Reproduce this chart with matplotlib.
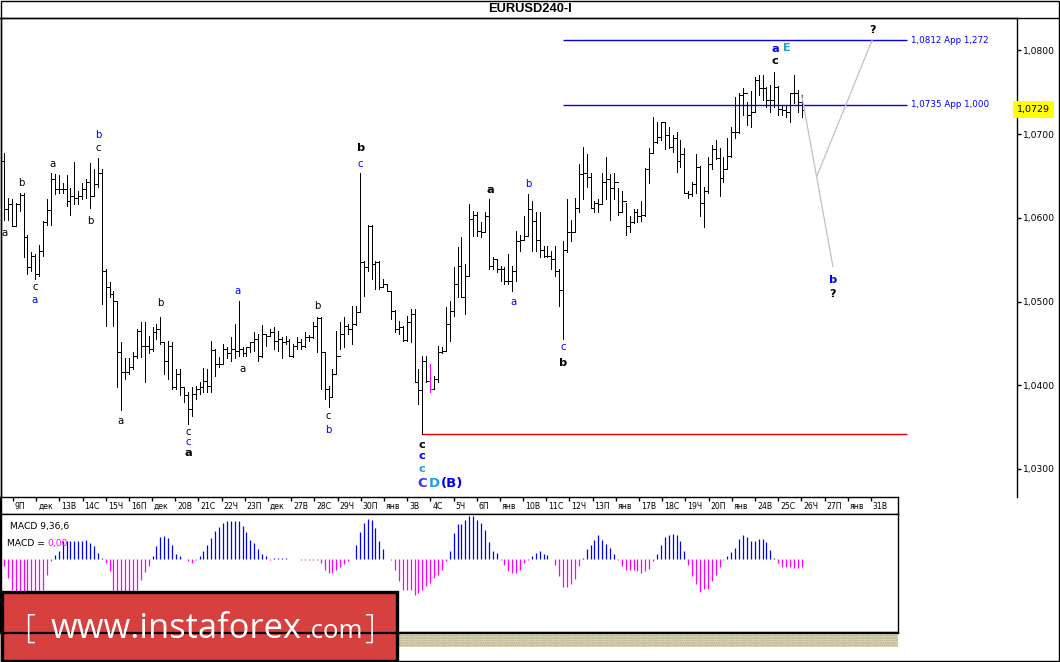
import numpy as np
import matplotlib.pyplot as plt
import matplotlib.transforms as mtransforms
from matplotlib.patches import Rectangle
from matplotlib.ticker import FixedLocator, FuncFormatter

W, H = 1060, 662

# 4H bars
highs = [1.0678, 1.0624, 1.0622, 1.0618, 1.0630, 1.0630, 1.0580, 1.0559, 1.0557, 1.0568,
         1.0596, 1.0622, 1.0654, 1.0652, 1.0651, 1.0642, 1.0651, 1.0636, 1.0667, 1.0632,
         1.0642, 1.0646, 1.0666, 1.0658, 1.0671, 1.0658, 1.0539, 1.0523, 1.0513, 1.0501,
         1.0452, 1.0432, 1.0432, 1.0440, 1.0467, 1.0476, 1.0476, 1.0459, 1.0470, 1.0473,
         1.0482, 1.0452, 1.0453, 1.0452, 1.0420, 1.0420, 1.0398, 1.0392, 1.0398, 1.0399,
         1.0404, 1.0421, 1.0420, 1.0453, 1.0443, 1.0434, 1.0449, 1.0446, 1.0458, 1.0473,
         1.0501, 1.0446, 1.0446, 1.0452, 1.0464, 1.0461, 1.0472, 1.0461, 1.0467, 1.0470,
         1.0465, 1.0458, 1.0459, 1.0455, 1.0449, 1.0458, 1.0455, 1.0464, 1.0460, 1.0476,
         1.0482, 1.0481, 1.0440, 1.0399, 1.0420, 1.0465, 1.0476, 1.0482, 1.0473, 1.0495,
         1.0495, 1.0654, 1.0548, 1.0591, 1.0591, 1.0548, 1.0548, 1.0527, 1.0521, 1.0513,
         1.0490, 1.0477, 1.0471, 1.0483, 1.0491, 1.0491, 1.0420, 1.0435, 1.0435, 1.0426,
         1.0411, 1.0447, 1.0446, 1.0493, 1.0501, 1.0541, 1.0565, 1.0577, 1.0545, 1.0616,
         1.0608, 1.0607, 1.0595, 1.0607, 1.0623, 1.0553, 1.0551, 1.0542, 1.0541, 1.0557,
         1.0542, 1.0584, 1.0580, 1.0602, 1.0628, 1.0620, 1.0607, 1.0607, 1.0566, 1.0566,
         1.0560, 1.0566, 1.0539, 1.0572, 1.0622, 1.0598, 1.0624, 1.0664, 1.0685, 1.0676,
         1.0654, 1.0620, 1.0622, 1.0654, 1.0673, 1.0652, 1.0654, 1.0636, 1.0632, 1.0618,
         1.0602, 1.0610, 1.0610, 1.0620, 1.0660, 1.0684, 1.0720, 1.0714, 1.0715, 1.0714,
         1.0708, 1.0699, 1.0703, 1.0693, 1.0684, 1.0632, 1.0643, 1.0676, 1.0662, 1.0637,
         1.0673, 1.0687, 1.0693, 1.0684, 1.0673, 1.0696, 1.0709, 1.0745, 1.0749, 1.0755,
         1.0739, 1.0751, 1.0768, 1.0771, 1.0771, 1.0756, 1.0759, 1.0774, 1.0757, 1.0735,
         1.0735, 1.0749, 1.0771, 1.0753, 1.0747]
lows = [1.0598, 1.0598, 1.0590, 1.0590, 1.0608, 1.0553, 1.0533, 1.0536, 1.0527, 1.0530,
        1.0554, 1.0592, 1.0592, 1.0628, 1.0630, 1.0630, 1.0614, 1.0604, 1.0616, 1.0616,
        1.0622, 1.0624, 1.0612, 1.0626, 1.0637, 1.0497, 1.0471, 1.0505, 1.0471, 1.0398,
        1.0370, 1.0408, 1.0414, 1.0420, 1.0432, 1.0434, 1.0404, 1.0438, 1.0441, 1.0455,
        1.0449, 1.0414, 1.0408, 1.0396, 1.0396, 1.0388, 1.0380, 1.0354, 1.0363, 1.0384,
        1.0390, 1.0392, 1.0392, 1.0392, 1.0411, 1.0422, 1.0425, 1.0432, 1.0429, 1.0432,
        1.0435, 1.0435, 1.0435, 1.0440, 1.0441, 1.0429, 1.0434, 1.0447, 1.0459, 1.0443,
        1.0441, 1.0432, 1.0449, 1.0435, 1.0434, 1.0443, 1.0443, 1.0446, 1.0453, 1.0457,
        1.0440, 1.0396, 1.0384, 1.0374, 1.0386, 1.0413, 1.0443, 1.0446, 1.0461, 1.0449,
        1.0472, 1.0487, 1.0507, 1.0536, 1.0527, 1.0515, 1.0515, 1.0517, 1.0513, 1.0479,
        1.0464, 1.0461, 1.0453, 1.0453, 1.0452, 1.0404, 1.0378, 1.0342, 1.0404, 1.0392,
        1.0395, 1.0404, 1.0438, 1.0441, 1.0453, 1.0483, 1.0505, 1.0505, 1.0485, 1.0530,
        1.0578, 1.0578, 1.0577, 1.0583, 1.0539, 1.0539, 1.0535, 1.0524, 1.0521, 1.0521,
        1.0513, 1.0524, 1.0560, 1.0574, 1.0578, 1.0560, 1.0560, 1.0553, 1.0553, 1.0553,
        1.0539, 1.0530, 1.0495, 1.0455, 1.0559, 1.0572, 1.0583, 1.0607, 1.0622, 1.0637,
        1.0612, 1.0607, 1.0607, 1.0616, 1.0622, 1.0598, 1.0622, 1.0604, 1.0607, 1.0580,
        1.0583, 1.0594, 1.0595, 1.0596, 1.0602, 1.0642, 1.0678, 1.0690, 1.0693, 1.0682,
        1.0684, 1.0679, 1.0655, 1.0661, 1.0630, 1.0624, 1.0626, 1.0630, 1.0602, 1.0589,
        1.0630, 1.0658, 1.0670, 1.0626, 1.0643, 1.0658, 1.0673, 1.0696, 1.0701, 1.0723,
        1.0711, 1.0708, 1.0727, 1.0747, 1.0741, 1.0733, 1.0727, 1.0733, 1.0723, 1.0723,
        1.0720, 1.0714, 1.0737, 1.0727, 1.0721]
closes = [1.0610, 1.0616, 1.0590, 1.0616, 1.0627, 1.0577, 1.0541, 1.0554, 1.0533, 1.0560,
          1.0595, 1.0609, 1.0646, 1.0634, 1.0634, 1.0634, 1.0620, 1.0626, 1.0624, 1.0626,
          1.0634, 1.0643, 1.0626, 1.0640, 1.0654, 1.0536, 1.0518, 1.0509, 1.0501, 1.0440,
          1.0416, 1.0416, 1.0422, 1.0435, 1.0465, 1.0447, 1.0447, 1.0443, 1.0464, 1.0467,
          1.0452, 1.0429, 1.0447, 1.0398, 1.0414, 1.0398, 1.0388, 1.0372, 1.0390, 1.0396,
          1.0398, 1.0405, 1.0399, 1.0442, 1.0426, 1.0426, 1.0443, 1.0438, 1.0443, 1.0441,
          1.0443, 1.0438, 1.0446, 1.0452, 1.0455, 1.0435, 1.0461, 1.0459, 1.0464, 1.0453,
          1.0455, 1.0452, 1.0453, 1.0435, 1.0447, 1.0452, 1.0447, 1.0458, 1.0458, 1.0471,
          1.0480, 1.0440, 1.0396, 1.0386, 1.0414, 1.0435, 1.0461, 1.0471, 1.0467, 1.0473,
          1.0487, 1.0547, 1.0541, 1.0590, 1.0545, 1.0547, 1.0518, 1.0521, 1.0513, 1.0489,
          1.0467, 1.0470, 1.0454, 1.0476, 1.0485, 1.0404, 1.0394, 1.0429, 1.0405, 1.0396,
          1.0408, 1.0440, 1.0441, 1.0473, 1.0489, 1.0521, 1.0542, 1.0505, 1.0530, 1.0599,
          1.0604, 1.0584, 1.0583, 1.0602, 1.0542, 1.0551, 1.0539, 1.0539, 1.0524, 1.0524,
          1.0536, 1.0572, 1.0574, 1.0578, 1.0610, 1.0596, 1.0574, 1.0562, 1.0554, 1.0554,
          1.0551, 1.0536, 1.0514, 1.0562, 1.0583, 1.0583, 1.0612, 1.0652, 1.0654, 1.0649,
          1.0612, 1.0618, 1.0617, 1.0643, 1.0646, 1.0636, 1.0643, 1.0607, 1.0620, 1.0590,
          1.0595, 1.0607, 1.0602, 1.0603, 1.0658, 1.0678, 1.0691, 1.0697, 1.0714, 1.0699,
          1.0685, 1.0696, 1.0668, 1.0676, 1.0630, 1.0629, 1.0640, 1.0661, 1.0618, 1.0632,
          1.0664, 1.0682, 1.0672, 1.0648, 1.0658, 1.0674, 1.0703, 1.0702, 1.0747, 1.0749,
          1.0723, 1.0727, 1.0765, 1.0755, 1.0755, 1.0741, 1.0741, 1.0756, 1.0730, 1.0729,
          1.0727, 1.0749, 1.0749, 1.0739, 1.0729]
first_open = 1.0668
marked_bar = 109   # the magenta bar

# MACD 9,36,6 histogram (units of 1e-5, approx)
macd_hist = [-7.3, -19, -31, -34, -37, -38, -38, -36, -33, -31, -31, -16,
             -2.3, 4.3, 8.3, 18.3, 18.3, 18.3, 18.3, 18.3, 18.3, 19.3, 16, 12.7, 6, 1,
             -4, -12, -31, -36, -40, -40, -38, -35, -31, -20.7, -13.3, -6.7,
             2.7, 13.3, 21.7, 23.3, 21, 14.3, 5.3, 2.7, 0.5, -2.3, -4, -1.3, 2.7, 7.7,
             14.3, 21, 27.7, 32, 36, 37.7, 38.3, 38.3, 37.7, 32.7, 26.7, 19.3, 16, 10,
             5.3, 2.7,
             -1.3, 1, 1, 1, 0.7, 0.3, 0.3, -0.3, -0.7, -0.7, -0.7, -0.7, -1.3, -4,
             -10.7, -14, -14, -10.7, -8, -4.7, -2.3, 0.3,
             14.3, 26.7, 36, 40, 38.7, 31, 17.7, 10, 0.3, -1.3, -10.7, -22.3, -30.7,
             -31, -31, -35.7, -34, -30.7, -27.3, -24, -19, -15.7, -10.7, -2.3, 7.7, 26,
             35, 35, 39.3, 42.7, 42.7, 39.3, 36, 29.3, 17, 7.7, 6, -1.3, -5.7, -12.3,
             -14, -14, -10.7, -4,
             -1.3,
             2.7, 6, 8.3, 5.3, 4.3, 0.3, -5.7, -17.3, -28.3, -28.3, -24.7, -19.7, -7.3,
             1, 10.3, 14.3, 19.3, 23.7, 19.3, 15.3, 11, 5.3, -1.3, -7.3, -10.7, -10.7,
             -10.7, -11.7, -14, -12.3, -10, -2.3, 5.3, 14.3, 21.7, 24.3, 25.3, 24.3,
             18.3, 7.7, -5.7, -17.3, -24.7, -33.3, -29.7, -29.7, -22.3, -15.7, -8.3,
             -1.3, 3.3, 6.7, 11, 20.3, 23.7, 21.7, 17.7, 17.7, 20.3, 20.3, 16.7, 9.3,
             1.3, -4, -8, -8.3, -8.3, -9, -9, -8]

day_labels = ['9П', 'дек', '13В', '14С', '15Ч', '16П', 'дек', '20В', '21С', '22Ч',
              '23П', 'дек', '27В', '28С', '29Ч', '30П', 'янв', '3В', '4С', '5Ч', '6П',
              'янв', '10В', '11С', '12Ч', '13П', 'янв', '17В', '18С', '19Ч', '20П',
              'янв', '24В', '25С', '26Ч', '27П', 'янв', '31В']
price_ticks = [1.03, 1.04, 1.05, 1.06, 1.07, 1.08]
last_price = 1.0729
fib_levels = [1.0812, 1.0735]
fib_texts = ['1,0812 App 1,272', '1,0735 App 1,000']
support_level = 1.0342

# forecast path (bar index, price)
proj_down_x, proj_down_y = [204, 212], [1.0747, 1.0542]
proj_up_x, proj_up_y = [208, 222], [1.0651, 1.0812]

BLUE = '#0000ff'
CYAN = '#1e9fe0'
MAG = '#ff00ff'
# wave labels: bar index, price, text, colour, bold
wave_labels = [
    (24.0, 1.0699, 'b', BLUE, False), (24.0, 1.0684, 'c', 'black', False),
    (12.3, 1.0664, 'a', 'black', False), (4.3, 1.0642, 'b', 'black', False),
    (22.0, 1.0596, 'b', 'black', False), (0.2, 1.0582, 'a', 'black', False),
    (7.9, 1.0517, 'c', 'black', False), (7.9, 1.0502, 'a', BLUE, False),
    (39.9, 1.0498, 'b', 'black', False), (29.9, 1.0357, 'a', 'black', False),
    (47.1, 1.0344, 'c', 'black', False), (47.1, 1.0332, 'c', BLUE, False),
    (47.1, 1.0319, 'a', 'black', True), (59.8, 1.0513, 'a', BLUE, False),
    (60.9, 1.0420, 'a', 'black', False), (80.1, 1.0495, 'b', 'black', False),
    (82.9, 1.0363, 'c', 'black', False), (82.9, 1.0347, 'b', BLUE, False),
    (91.3, 1.0683, 'b', 'black', True), (91.0, 1.0664, 'c', BLUE, False),
    (124.3, 1.0633, 'a', 'black', True), (134.0, 1.0641, 'b', BLUE, False),
    (130.2, 1.0499, 'a', BLUE, False), (143.0, 1.0446, 'c', BLUE, False),
    (143.0, 1.0427, 'b', 'black', True),
    (106.9, 1.0329, 'c', 'black', True), (106.9, 1.0315, 'c', BLUE, True),
    (106.9, 1.0300, 'c', CYAN, True),
    (197.2, 1.0802, 'a', BLUE, True), (200.3, 1.0803, 'E', CYAN, True),
    (197.2, 1.0787, 'c', 'black', True), (222.0, 1.0825, '?', 'black', True),
    (212.0, 1.0526, 'b', BLUE, True), (212.0, 1.0509, '?', 'black', True),
]
big_labels = [(106.9, 1.0283, 'C', '#3a2cff'), (110.0, 1.0283, 'D', CYAN),
              (114.6, 1.0283, '(B)', BLUE)]

plt.rcParams['font.family'] = ['DejaVu Sans']

fig = plt.figure(figsize=(W / 100, H / 100), dpi=100)
fig.patch.set_facecolor('white')


def px_axes(x0, y0, x1, y1):
    return fig.add_axes([x0 / W, 1 - y1 / H, (x1 - x0) / W, (y1 - y0) / H])


# bar index <-> pixel: x = 4 + 3.91 * i
def idx(px):
    return (px - 4) / 3.91


n = len(closes)
xs = np.arange(n)
opens = [first_open] + closes[:-1]
bar_cols = ['black'] * n
bar_cols[marked_bar] = MAG
BAR_LW = 0.6

# ---- main price panel ----
ax = px_axes(1, 18, 1017, 497)
ax.set_xlim(idx(1), idx(1017))
ax.set_ylim(1.02665, 1.08388)
ax.vlines(xs, lows, highs, colors=bar_cols, lw=BAR_LW, antialiased=False)
ax.hlines(opens, xs - 0.55, xs, colors=bar_cols, lw=BAR_LW, antialiased=False)
ax.hlines(closes, xs, xs + 0.55, colors=bar_cols, lw=BAR_LW, antialiased=False)

fib_x0, fib_x1 = idx(563), idx(907)
for lev, txt in zip(fib_levels, fib_texts):
    ax.hlines(lev, fib_x0, fib_x1, colors=BLUE, lw=1.0)
    ax.text(idx(911), lev, txt, color=BLUE, fontsize=6.3, va='center', ha='left')
ax.hlines(support_level, 107, fib_x1, colors='#e00000', lw=1.0)

ax.plot(proj_down_x, proj_down_y, color='#c8bcc8', lw=0.9)
ax.plot(proj_up_x, proj_up_y, color='#c8bcc8', lw=0.9)

for x, y, t, c, b in wave_labels:
    ax.text(x, y, t, color=c, ha='center', va='center',
            fontsize=8.2 if b else 7.3, fontweight='bold' if b else 'normal')
for x, y, t, c in big_labels:
    ax.text(x, y, t, color=c, ha='center', va='center', fontsize=9.5, fontweight='bold')

ax.yaxis.tick_right()
ax.yaxis.set_major_locator(FixedLocator(price_ticks))
ax.yaxis.set_major_formatter(FuncFormatter(lambda v, p: f'{v:.4f}'.replace('.', ',')))
ax.tick_params(axis='y', direction='out', length=3, width=1, labelsize=6.6, pad=1.5)
ax.set_xticks([])
for s in ['left', 'top', 'right']:
    ax.spines[s].set_linewidth(1.0)
ax.spines['bottom'].set_visible(False)

trans = mtransforms.blended_transform_factory(ax.transAxes, ax.transData)
ax.text(1.0, last_price, f'{last_price:.4f}'.replace('.', ','), transform=trans,
        ha='left', va='center', fontsize=6.8, color='black',
        bbox=dict(boxstyle='square,pad=0.42', fc='yellow', ec='none'))

# ---- date row ----
axd = px_axes(0, 497, 898, 514)
axd.set_xlim(idx(0), idx(898))
axd.set_ylim(0, 1)
tick_pos = 2.3 + 5.93 * np.arange(len(day_labels))
axd.set_xticks(tick_pos)
axd.set_xticklabels([])
axd.xaxis.tick_top()
axd.tick_params(axis='x', direction='in', length=3, width=1)
axd.set_yticks([])
for tp, lab in zip(tick_pos, day_labels):
    axd.text(tp + 0.5, 0.45, lab, fontsize=5.6, ha='left', va='center')
for s in axd.spines.values():
    s.set_linewidth(1.0)

# ---- MACD panel ----
axm = px_axes(0, 514, 898, 632)
axm.set_xlim(idx(0), idx(898))
axm.set_ylim(-73, 45)
mcols = [BLUE if v > 0 else MAG for v in macd_hist]
axm.vlines(np.arange(len(macd_hist)), 0, macd_hist, colors=mcols, lw=0.9)
axm.set_xticks([])
axm.set_yticks([])
for s in axm.spines.values():
    s.set_linewidth(1.0)
axm.text(0.011, 0.93, 'MACD 9,36,6', transform=axm.transAxes, fontsize=6.6,
         va='top', ha='left')
axm.text(0.008, 0.79, 'MACD =', transform=axm.transAxes, fontsize=6.6,
         va='top', ha='left')
axm.text(0.0525, 0.79, '0,00', transform=axm.transAxes, fontsize=6.6,
         va='top', ha='left', color=MAG)

# ---- frame, title, logo ----
ov = fig.add_axes([0, 0, 1, 1])
ov.set_xlim(0, W)
ov.set_ylim(H, 0)
ov.axis('off')
ov.add_patch(Rectangle((0.5, 0.5), 1058, 660.5, fill=False, ec='black', lw=1.0))
ov.plot([0, 1058], [18, 18], color='black', lw=1.0)
ov.text(530, 9.5, 'EURUSD240-I', ha='center', va='center', fontsize=9.3,
        fontweight='bold', family=['Liberation Sans', 'DejaVu Sans'])
ov.add_patch(Rectangle((0, 634), 898, 13, fc='#e2dcc2', ec='#b0a780', lw=0,
                       hatch='.......'))
ov.plot([0, 898], [633, 633], color='black', lw=1.6)

ov.add_patch(Rectangle((1.5, 591.5), 395, 69, fc='#d6403f', ec='black', lw=2.4))
ov.text(24, 629, '[', color='white', fontsize=24, va='center', ha='left',
        family=['Open Sans', 'DejaVu Sans'], fontweight='light')
ov.text(51, 638, 'www.instaforex', color='white', fontsize=24.8, va='baseline',
        ha='left', family=['Open Sans', 'DejaVu Sans'])
ov.text(304, 638, '.com', color='white', fontsize=18.5, va='baseline', ha='left',
        family=['Open Sans', 'DejaVu Sans'])
ov.text(364, 629, ']', color='white', fontsize=24, va='center', ha='left',
        family=['Open Sans', 'DejaVu Sans'], fontweight='light')

fig.savefig('out.png', dpi=100)
